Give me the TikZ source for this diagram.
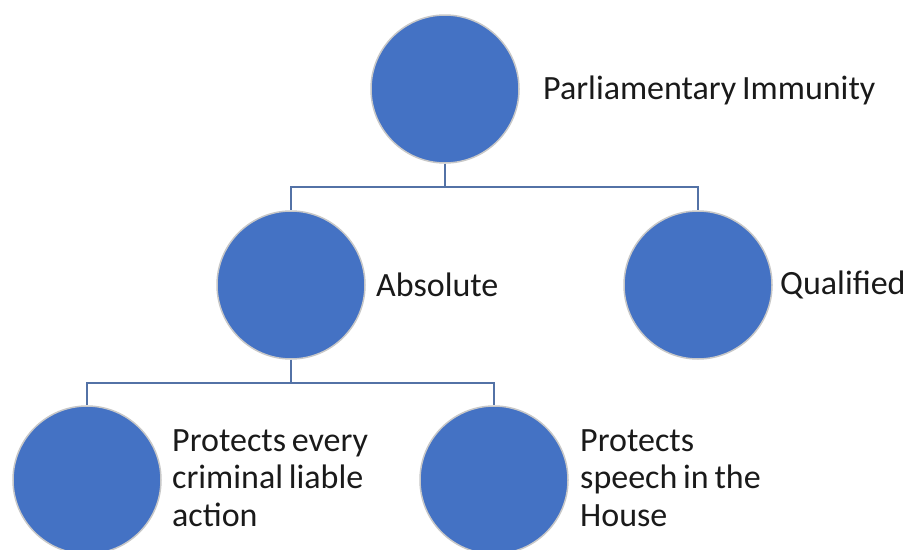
\documentclass[tikz,border=0pt]{standalone}
\usepackage{fontspec}
\setmainfont[WordSpace=0.75]{Carlito}
\definecolor{blob}{HTML}{4472C4}
\definecolor{rim}{HTML}{C8C8C8}
\definecolor{wire}{HTML}{5372A6}
\definecolor{ink}{HTML}{1A1A1A}
\begin{document}
\begin{tikzpicture}[x=1pt,y=-1pt,
  blobnode/.style={circle,fill=blob,draw=rim,line width=1.5pt,minimum size=148pt,inner sep=0pt},
  lbl/.style={anchor=west,inner sep=0pt,align=left,text=ink,font=\fontsize{34}{37.5}\selectfont},
  wireline/.style={draw=wire,line width=1.6pt}]
\useasboundingbox (0,0) rectangle (913,549);
\node[blobnode] (c0) at (445,89) {};
\node[blobnode] (c1) at (291,285) {};
\node[blobnode] (c2) at (698,285) {};
\node[blobnode] (c3) at (87,480) {};
\node[blobnode] (c4) at (494,480) {};
\node[lbl] (t0) at (543,90) {Parliamentary Immunity};
\node[lbl] (t1) at (376,285) {Absolute};
\node[lbl] (t2) at (780,285) {Qualified};
\node[lbl] (t3) at (172,478) {Protects every\\criminal liable\\action};
\node[lbl] (t4) at (580,478) {Protects\\speech in the\\House};
\coordinate (j0) at (445,187);
\coordinate (j1) at (291,383);
\draw[wireline] (c0.south) -- (j0);
\draw[wireline] (j0) -| (c1.north);
\draw[wireline] (j0) -| (c2.north);
\draw[wireline] (c1.south) -- (j1);
\draw[wireline] (j1) -| (c3.north);
\draw[wireline] (j1) -| (c4.north);
\end{tikzpicture}
\end{document}
